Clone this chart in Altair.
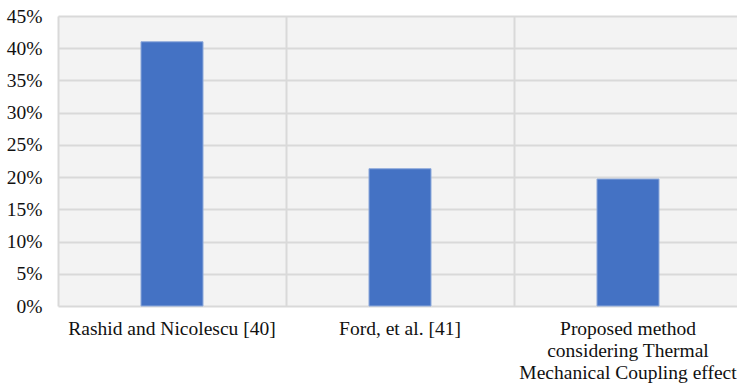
import altair as alt
import pandas as pd

# Error share of each method
methods = [
    "Rashid and Nicolescu [40]",
    "Ford, et al. [41]",
    "Proposed method\nconsidering Thermal\nMechanical Coupling effect",
]
errors = [0.41, 0.213, 0.197]

df = pd.DataFrame({"method": methods, "error": errors})

font = "Liberation Serif, Times New Roman, serif"
grid_color = "#d9d9d9"

bars = (
    alt.Chart(df)
    .mark_bar(
        width=alt.RelativeBandSize(0.272),
        color="#4472c4",
        stroke="#8eaadb",
        strokeWidth=1,
    )
    .encode(
        x=alt.X(
            "method:N",
            sort=methods,
            title=None,
            scale=alt.Scale(range=[0, 684], paddingInner=0, paddingOuter=0),
            axis=alt.Axis(
                labelAngle=0,
                labelExpr="split(datum.label, '\\n')",
                labelLineHeight=22,
                labelPadding=13,
                labelFontSize=19.5,
                labelFont=font,
                labelColor="#111111",
                labelLimit=400,
                ticks=False,
                domain=False,
                grid=True,
                gridColor=grid_color,
                gridWidth=2,
                bandPosition=0,
            ),
        ),
        y=alt.Y(
            "error:Q",
            title=None,
            scale=alt.Scale(domain=[0, 0.45], nice=False),
            axis=alt.Axis(
                values=[0, 0.05, 0.10, 0.15, 0.20, 0.25, 0.30, 0.35, 0.40, 0.45],
                format=".0%",
                labelFontSize=19.5,
                labelFont=font,
                labelColor="#111111",
                labelPadding=16,
                ticks=False,
                domain=False,
                grid=True,
                gridColor=grid_color,
                gridWidth=2,
            ),
        ),
    )
)

chart = (
    bars.properties(
        width=679,
        height=290,
        autosize=alt.AutoSizeParams(type="none"),
        padding={"left": 58, "top": 16, "right": 0, "bottom": 78},
        background="white",
    )
    .configure_view(stroke=None, fill="#f3f3f3")
)

chart.save("out.html", embed_options={"renderer": "svg", "actions": False})
